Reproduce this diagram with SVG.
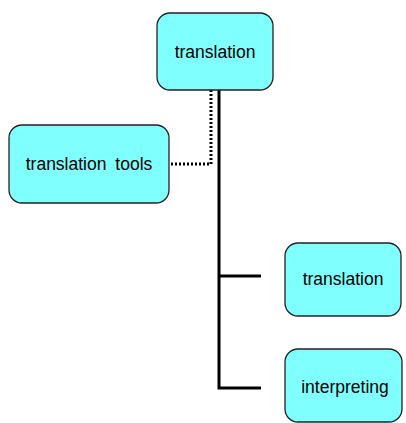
<svg xmlns="http://www.w3.org/2000/svg" width="406" height="423" viewBox="0 0 406 423">
  <style>
    .box { fill: #80ffff; stroke: #222; stroke-width: 1.3; }
    .label { font-family: "Liberation Sans", Arial, sans-serif; font-size: 17.5px; fill: #000; text-anchor: middle; dominant-baseline: central; }
    .solid { fill: none; stroke: #000; stroke-width: 3; }
    .dotted { fill: none; stroke: #000; stroke-width: 3; stroke-dasharray: 2 2; }
  </style>
  <rect width="406" height="423" fill="#fff"/>
  <g id="connectors">
    <path class="solid" d="M219 90 V388 H261 M219 276 H261"/>
    <path class="dotted" d="M211 90 V164 H170"/>
  </g>
  <g id="node-translation-root">
    <rect class="box" x="157" y="13" width="116" height="77" rx="13"/>
    <text class="label" x="215" y="52">translation</text>
  </g>
  <g id="node-translation-tools">
    <rect class="box" x="9" y="125" width="160" height="78" rx="13"/>
    <text class="label" x="89" y="164" word-spacing="4">translation tools</text>
  </g>
  <g id="node-translation">
    <rect class="box" x="285" y="243" width="116" height="73" rx="13"/>
    <text class="label" x="343" y="279">translation</text>
  </g>
  <g id="node-interpreting">
    <rect class="box" x="285" y="349" width="117" height="73" rx="13"/>
    <text class="label" x="345" y="387">interpreting</text>
  </g>
</svg>
